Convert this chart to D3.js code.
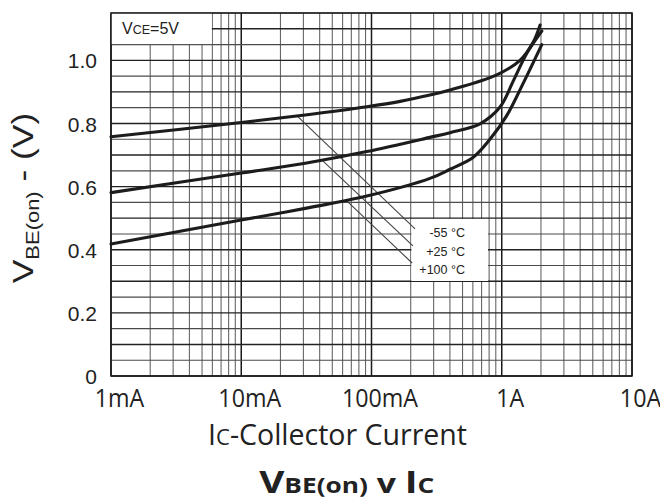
<!DOCTYPE html>
<html>
<head>
<meta charset="utf-8">
<script src="https://cdn.jsdelivr.net/npm/d3@7/dist/d3.min.js"></script>
<style>
  html, body { margin: 0; padding: 0; background: #ffffff; }
  svg { display: block; }
</style>
</head>
<body>
<svg id="chart" width="660" height="502"></svg>
<script>
// ---------------- data (collector current in mA, VBE(on) in V) ----------------
const xTickValues = [1, 10, 100, 1000, 10000];
const xTickLabels = ["1mA", "10mA", "100mA", "1A", "10A"];
const yTickValues = [0, 0.2, 0.4, 0.6, 0.8, 1.0];
const yTickLabels = ["0", "0.2", "0.4", "0.6", "0.8", "1.0"];

const seriesNames = ["-55 °C", "+25 °C", "+100 °C"];

const currentM55 = [1, 10, 31, 92, 166, 281, 401, 915, 1380, 1750, 1970];
const vbeM55     = [0.758, 0.803, 0.827, 0.853, 0.870, 0.890, 0.906, 0.954, 1.000, 1.059, 1.112];

const currentP25 = [1, 10, 31, 92, 281, 401, 681, 970, 1227, 1554, 2030];
const vbeP25     = [0.581, 0.643, 0.674, 0.711, 0.756, 0.771, 0.799, 0.852, 0.935, 1.022, 1.093];

const currentP100 = [1, 10, 31, 92, 281, 401, 605, 812, 1092, 1463, 2030];
const vbeP100     = [0.418, 0.494, 0.531, 0.570, 0.626, 0.655, 0.693, 0.750, 0.825, 0.928, 1.050];

// leader lines: [startCurrent, startV, endCurrent, endV]
const leaderM55  = [27.3, 0.821, 216, 0.466];
const leaderP25  = [41.7, 0.684, 208, 0.412];
const leaderP100 = [64.9, 0.554, 205, 0.358];

const vceLabel = ["V", "CE", "=5V"];

// ---------------- layout ----------------
const svg = d3.select("#chart");
const pL = 111, pR = 632, pT = 13, pB = 376;

const x = d3.scaleLog().domain([1, 10000]).range([pL, pR]);
const y = d3.scaleLinear().domain([0, 1.15]).range([pB, pT]);

svg.append("rect").attr("width", 660).attr("height", 502).attr("fill", "#fff");

// ---------------- grid ----------------
const gridG = svg.append("g");
const vLines = [];
for (let d = 1; d <= 1000; d *= 10) for (let k = 1; k <= 9; k++) vLines.push(k * d);
vLines.push(10000);
const isDecade = d => Math.abs(Math.log10(d) - Math.round(Math.log10(d))) < 1e-9;
gridG.selectAll("line.v").data(vLines).join("line")
  .attr("x1", d => x(d)).attr("x2", d => x(d))
  .attr("y1", pT).attr("y2", pB)
  .attr("stroke", d => isDecade(d) ? "#1a1a1a" : "#666")
  .attr("stroke-width", d => isDecade(d) ? 1.5 : 1.1);

const hLines = d3.range(0, 24).map(i => +(i * 0.05).toFixed(2));
gridG.selectAll("line.h").data(hLines).join("line")
  .attr("x1", pL).attr("x2", pR)
  .attr("y1", d => y(d)).attr("y2", d => y(d))
  .attr("stroke", (d, i) => i % 2 === 0 ? "#222" : "#4a4a4a")
  .attr("stroke-width", (d, i) => i % 2 === 0 ? 1.4 : 1.15);

// white boxes hiding grid
svg.append("rect").attr("x", pL).attr("y", pT)
  .attr("width", x(6) - pL - 0.5).attr("height", y(1.05) - pT - 0.5).attr("fill", "#fff");
svg.append("rect").attr("x", x(200) + 0.7).attr("y", 219)
  .attr("width", 488 - x(200) - 0.7).attr("height", 62).attr("fill", "#fff");

// border
svg.append("rect").attr("x", pL).attr("y", pT)
  .attr("width", pR - pL).attr("height", pB - pT)
  .attr("fill", "none").attr("stroke", "#1a1a1a").attr("stroke-width", 1.5);

// ---------------- leader lines ----------------
const leaders = [leaderM55, leaderP25, leaderP100];
svg.append("g").selectAll("line").data(leaders).join("line")
  .attr("x1", d => x(d[0])).attr("y1", d => y(d[1]))
  .attr("x2", d => x(d[2])).attr("y2", d => y(d[3]))
  .attr("stroke", "#444").attr("stroke-width", 1.1);

// ---------------- curves ----------------
const series = [
  currentM55.map((c, i) => [c, vbeM55[i]]),
  currentP25.map((c, i) => [c, vbeP25[i]]),
  currentP100.map((c, i) => [c, vbeP100[i]])
];
const line = d3.line().x(d => x(d[0])).y(d => y(d[1])).curve(d3.curveCatmullRom.alpha(0.5));
svg.append("g").selectAll("path").data(series).join("path")
  .attr("d", line).attr("fill", "none")
  .attr("stroke", "#1c1c1c").attr("stroke-width", 3.1)
  .attr("stroke-linecap", "round").attr("stroke-linejoin", "round");

// ---------------- series labels ----------------
svg.append("g").selectAll("text").data(seriesNames).join("text")
  .attr("x", 465).attr("y", (d, i) => 237 + i * 18.5)
  .attr("text-anchor", "end")
  .attr("font-family", "'Liberation Sans', Arial, sans-serif")
  .attr("font-size", 12.5).attr("fill", "#222")
  .text(d => d);

// VCE label
const vce = svg.append("text").attr("x", 122).attr("y", 34)
  .attr("font-family", "'Liberation Sans', Arial, sans-serif").attr("fill", "#222");
vce.append("tspan").attr("font-size", 16).text(vceLabel[0]);
vce.append("tspan").attr("font-size", 12.5).text(vceLabel[1]);
vce.append("tspan").attr("font-size", 16).text(vceLabel[2]);

// ---------------- axes ----------------
const xAxis = svg.append("g").attr("transform", `translate(0,${pB})`)
  .call(d3.axisBottom(x).tickValues(xTickValues).tickSize(0)
    .tickFormat((d, i) => xTickLabels[i]));
xAxis.select(".domain").remove();
xAxis.selectAll("text")
  .attr("y", 31).attr("dy", 0)
  .attr("transform", "translate(8,0) scale(0.93,1)")
  .attr("font-family", "'Open Sans', sans-serif").attr("font-size", 25).attr("fill", "#222");

const yAxis = svg.append("g").attr("transform", `translate(97,0)`)
  .call(d3.axisLeft(y).tickValues(yTickValues).tickSize(0).tickPadding(0)
    .tickFormat((d, i) => yTickLabels[i]));
yAxis.select(".domain").remove();
yAxis.selectAll("text")
  .attr("dy", "0.36em")
  .attr("font-family", "'Liberation Sans', Arial, sans-serif").attr("font-size", 21).attr("fill", "#222");

// x title
const xt = svg.append("text").attr("x", 337.5).attr("y", 445).attr("text-anchor", "middle")
  .attr("font-family", "'Open Sans', sans-serif").attr("font-size", 28.5).attr("fill", "#222");
xt.append("tspan").text("I");
xt.append("tspan").attr("font-size", 22).text("C");
xt.append("tspan").text("-Collector Current");

// y title
const yt = svg.append("text")
  .attr("transform", "translate(33,198) rotate(-90) scale(1.22,1)")
  .attr("text-anchor", "middle")
  .attr("font-family", "'Liberation Sans', Arial, sans-serif").attr("font-size", 29).attr("fill", "#222");
yt.append("tspan").text("V");
yt.append("tspan").attr("font-size", 18).attr("dy", 6).text("BE(on)");
yt.append("tspan").attr("dy", -6).text(" - (V)");

// chart title
const tt = svg.append("text").attr("transform", "translate(346.7,493) scale(1.25,1)")
  .attr("text-anchor", "middle")
  .attr("font-family", "'Open Sans', sans-serif").attr("font-weight", "bold").attr("fill", "#222");
tt.append("tspan").attr("font-size", 31).text("V");
tt.append("tspan").attr("font-size", 21).text("BE(on)");
tt.append("tspan").attr("font-size", 27).text(" v ");
tt.append("tspan").attr("font-size", 31).text("I");
tt.append("tspan").attr("font-size", 21).text("C");
</script>
</body>
</html>
